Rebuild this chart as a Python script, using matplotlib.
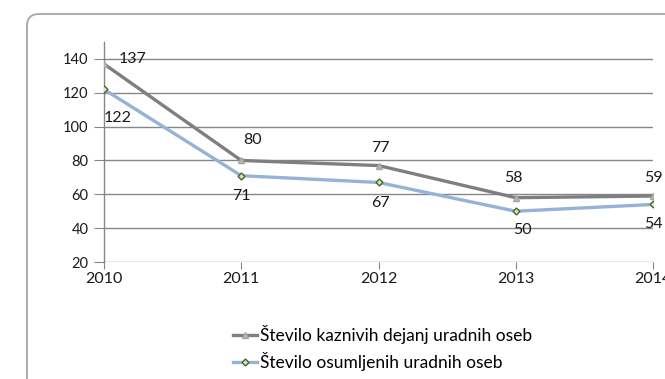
import matplotlib
matplotlib.use("Agg")
import matplotlib.pyplot as plt
from matplotlib.patches import FancyBboxPatch
from matplotlib.transforms import IdentityTransform

# Data
years = [2010, 2011, 2012, 2013, 2014]
kazniva_dejanja = [137, 80, 77, 58, 59]
osumljene_osebe = [122, 71, 67, 50, 54]
y_ticks = [20, 40, 60, 80, 100, 120, 140]

label_kd = "Število kaznivih dejanj uradnih oseb"
label_os = "Število osumljenih uradnih oseb"

# label offsets in pixels (dx, dy)
offs_kd = [(29, 5), (11, 20), (2, 18), (-2, 20), (0, 18)]
offs_os = [(14, -29), (0, -20), (2, -21), (7, -19), (0, -20)]

plt.rcParams["font.family"] = ["Lato", "DejaVu Sans"]

fig = plt.figure(figsize=(6.65, 3.79), dpi=100)
fig.patch.set_facecolor("white")

# rounded chart border
border = FancyBboxPatch((27, -30), 720, 379 - 14 + 30,
                        boxstyle="round,pad=0,rounding_size=12",
                        transform=IdentityTransform(), fill=False,
                        edgecolor="#a6a6a6", linewidth=1.3)
fig.patches.append(border)

ax = fig.add_axes([104 / 665, 1 - 262 / 379, (653 - 104) / 665, (262 - 42) / 379])

ax.plot(years, kazniva_dejanja, color="#7f7f7f", linewidth=2.4,
        marker="^", markersize=5, markerfacecolor="#b8bdb0",
        markeredgecolor="#a3a89c", label=label_kd, zorder=3)
ax.plot(years, osumljene_osebe, color="#95b3d7", linewidth=2.4,
        marker="D", markersize=3.5, markerfacecolor="#d7e4bd",
        markeredgecolor="#4f6228", markeredgewidth=1.0,
        label=label_os, zorder=3)

for x, v, (dx, dy) in zip(years, kazniva_dejanja, offs_kd):
    ax.annotate(str(v), (x, v), xytext=(dx, dy), textcoords="offset pixels",
                ha="center", va="center", fontsize=11.5, color="#1a1a1a",
                annotation_clip=False)
for x, v, (dx, dy) in zip(years, osumljene_osebe, offs_os):
    ax.annotate(str(v), (x, v), xytext=(dx, dy), textcoords="offset pixels",
                ha="center", va="center", fontsize=11.5, color="#1a1a1a",
                annotation_clip=False)

ax.set_xlim(2010, 2014)
ax.set_ylim(20, 150)
ax.set_yticks(y_ticks)
ax.set_xticks(years)
ax.set_xticklabels([str(y) for y in years])
ax.grid(axis="y", color="#868686", linewidth=1.0)
ax.set_axisbelow(True)

for side in ["top", "right", "bottom"]:
    ax.spines[side].set_visible(False)
ax.spines["left"].set_color("#868686")
ax.spines["left"].set_linewidth(1.0)

ax.tick_params(axis="y", length=7, color="#868686", labelsize=10.5, pad=4,
               labelcolor="#1a1a1a")
ax.tick_params(axis="x", length=5, color="#868686", labelsize=11.5, pad=2,
               labelcolor="#1a1a1a")

leg = fig.legend(loc="upper left", bbox_to_anchor=(226 / 665, 1 - 318 / 379),
                 frameon=False, fontsize=12.5, handlelength=1.4,
                 handletextpad=0.15, labelspacing=0.45, borderaxespad=0)

fig.savefig("out.png", dpi=100)
